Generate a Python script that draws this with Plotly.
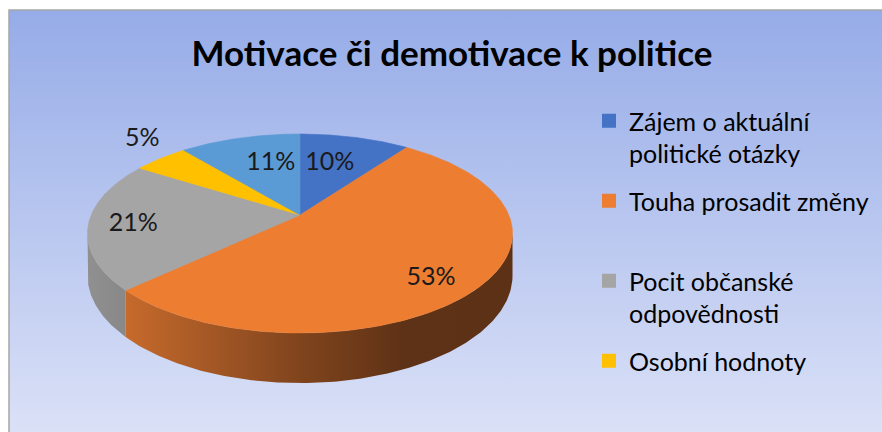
import base64
import numpy as np
import plotly.graph_objects as go

# ---------------- data ----------------
title_text = "Motivace či demotivace k politice"
categories = [
    "Zájem o aktuální politické otázky",
    "Touha prosadit změny",
    "Pocit občanské odpovědnosti",
    "Osobní hodnoty",
    "",
]
values = [10, 53, 21, 5, 11]
legend_labels = [
    "Zájem o aktuální<br>politické otázky",
    "Touha prosadit změny<br> ",
    "Pocit občanské<br>odpovědnosti",
    "Osobní hodnoty",
]

# ---------------- style ----------------
top_colors = ["#4472C4", "#ED7D31", "#A5A5A5", "#FFC000", "#5B9BD5"]
side_scales = [
    [[0, "#2F5597"], [1, "#203864"]],
    [[0, "#C66A2C"], [0.45, "#80441D"], [0.72, "#5E3216"], [1, "#5C3115"]],
    [[0, "#909090"], [1, "#888888"]],
    [[0, "#BF9000"], [1, "#7F6000"]],
    [[0, "#41719C"], [1, "#2E5075"]],
]
label_r = [0.61, 0.81, 0.79, 1.27, 0.61]
label_shift_deg = [-3, 5, -2, 4.5, 5]
FONT = "Lato"

W, H = 882, 432              # figure size (window pixels)
CX, CY = 300.0, 215.0        # pie centre
RA, RB = 208.8, 96.06        # projected radii
K = 0.186                    # perspective strength
DEPTH = 50.0                 # thickness at the front


def px_x(X):
    return X / W


def px_y(Y):
    return 1 - Y / H


def proj(u, v, drop=0.0):
    s = 1.0 / (1.0 - K * v)
    return CX + RA * u * s, CY + RB * v * s + drop * s * (1 - K)


def arc(a_deg, b_deg, r=1.0, drop=0.0):
    n = max(2, int(abs(b_deg - a_deg) * 1.5) + 2)
    th = np.radians(np.linspace(a_deg, b_deg, n))
    u, v = r * np.sin(th), -r * np.cos(th)
    return proj(u, v, drop)


fig = go.Figure()

total = float(sum(values))
bounds = np.concatenate([[0.0], np.cumsum(values) / total * 360.0])
theta_r = np.degrees(np.arccos(-K))          # right silhouette
theta_l = 360.0 - theta_r                      # left silhouette

# side walls
for i, val in enumerate(values):
    a, b = max(bounds[i], theta_r), min(bounds[i + 1], theta_l)
    if b <= a:
        continue
    xt, yt = arc(a, b)
    xb, yb = arc(b, a, drop=DEPTH)
    xs = np.concatenate([xt, xb, xt[:1]])
    ys = np.concatenate([yt, yb, yt[:1]])
    fig.add_trace(go.Scatter(
        x=xs, y=ys, mode="lines", fill="toself",
        line=dict(width=0), fillcolor=top_colors[i],
        fillgradient=dict(type="horizontal", colorscale=side_scales[i]),
        showlegend=False, hoverinfo="skip"))

# top faces
for i, val in enumerate(values):
    xa, ya = arc(bounds[i], bounds[i + 1])
    xs = np.concatenate([[CX], xa, [CX]])
    ys = np.concatenate([[CY], ya, [CY]])
    fig.add_trace(go.Scatter(
        x=xs, y=ys, mode="lines", fill="toself",
        line=dict(width=0.6, color=top_colors[i]), fillcolor=top_colors[i],
        name=categories[i], legendgroup=str(i), showlegend=False,
        hovertemplate=f"{categories[i]}: {val}%<extra></extra>"))

# data labels
lx, ly = [], []
for i, val in enumerate(values):
    mid = np.radians((bounds[i] + bounds[i + 1]) / 2 + label_shift_deg[i])
    px, py = proj(label_r[i] * np.sin(mid), -label_r[i] * np.cos(mid))
    lx.append(px)
    ly.append(py)
fig.add_trace(go.Scatter(
    x=lx, y=ly, mode="text", text=[f"{v}%" for v in values],
    textfont=dict(family=FONT, size=25, color="#1A1A1A"),
    showlegend=False, hoverinfo="skip"))

# legend entries
for i, lab in enumerate(legend_labels):
    fig.add_trace(go.Scatter(
        x=[None], y=[None], mode="markers", name=lab, legendgroup=str(i),
        marker=dict(symbol="square", size=14, color=top_colors[i]),
        showlegend=True))

svg = ('<svg xmlns="http://www.w3.org/2000/svg" width="100" height="100" '
       'viewBox="0 0 100 100" preserveAspectRatio="none"><defs>'
       '<linearGradient id="g" x1="0" y1="0" x2="0" y2="1">'
       '<stop offset="0" stop-color="#96ACE8"/>'
       '<stop offset="1" stop-color="#DCE2F7"/></linearGradient></defs>'
       '<rect width="100" height="100" fill="url(#g)"/></svg>')
bg_src = "data:image/svg+xml;base64," + base64.b64encode(svg.encode()).decode()

fig.update_layout(
    width=W, height=H,
    margin=dict(l=0, r=0, t=0, b=0),
    paper_bgcolor="white", plot_bgcolor="rgba(0,0,0,0)",
    xaxis=dict(range=[0, W], visible=False, fixedrange=True),
    yaxis=dict(range=[H, 0], visible=False, fixedrange=True),
    title=dict(text=title_text, x=px_x(452), xanchor="center",
               y=px_y(53.5), yanchor="middle", yref="paper",
               font=dict(family=FONT, size=35, color="#000000", weight="bold")),
    legend=dict(x=px_x(589), y=px_y(98), xanchor="left", yanchor="top",
                font=dict(family=FONT, size=25, color="#000000"),
                bgcolor="rgba(0,0,0,0)", tracegroupgap=12, valign="top",
                maxheight=420,
                itemclick=False, itemdoubleclick=False),
    images=[dict(source=bg_src, xref="paper", yref="paper", x=px_x(9), y=px_y(10),
                 sizex=1, sizey=1, xanchor="left", yanchor="top",
                 sizing="stretch", layer="below")],
    shapes=[dict(type="rect", xref="paper", yref="paper", x0=px_x(9), x1=1.05,
                 y0=-0.05, y1=px_y(10), line=dict(color="#A6A6A6", width=1.5))],
    showlegend=True,
)

fig.write_html(
    "out.html",
    config={"displayModeBar": False},
    post_script="document.documentElement.style.margin='0';"
                "document.body.style.margin='0';"
                "document.documentElement.style.overflow='hidden';"
                "document.body.style.overflow='hidden';",
)
